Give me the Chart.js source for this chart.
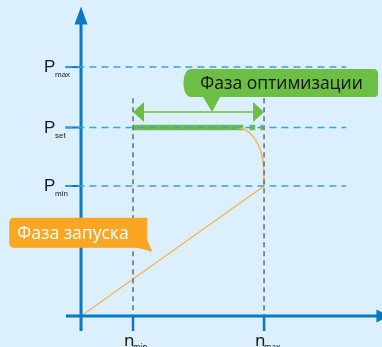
<!DOCTYPE html>
<html><head><meta charset="utf-8">
<script src="https://cdn.jsdelivr.net/npm/chart.js@4/dist/chart.umd.min.js"></script>
<style>html,body{margin:0;padding:0;background:#dbeffc;}canvas{display:block;}</style>
</head><body>
<canvas id="c" width="382" height="347"></canvas>
<script>
// ---- data ----
const speedTicks = ['min', 'max'];          // n_min, n_max
const speedValues = [1.0, 3.52];
const powerTicks = ['max', 'set', 'min'];   // P_max, P_set, P_min
const powerValues = [3.83, 2.9, 2.0];
const rampX = [0, 3.52];                    // start-up phase (straight)
const rampY = [0, 2.0];
const bendX = [3.52, 3.51, 3.45, 3.33, 3.17, 3.0];  // transition curve
const bendY = [2.0, 2.3, 2.55, 2.74, 2.86, 2.9];
const optBarX = [[1.0, 3.12], [3.24, 3.35], [3.45, 3.5]]; // optimisation band at P_set
const optArrowY = 3.14;
const labelStart = 'Фаза запуска';
const labelOpt = 'Фаза оптимизации';

const AX = '#0a78c2', DASH = '#3aa3e3', GRAY = '#666b70', GREEN = '#6dbe45', GREEN2 = '#8ccb66', ORANGE = '#f6b55a', ORANGE_BOX = '#f9a722';
const pts = (xs, ys) => xs.map((x, i) => ({x, y: ys[i]}));

const ds = [];
const line = (data, color, width, dash, extra) => ds.push(Object.assign({data, borderColor: color, borderWidth: width, borderDash: dash || [], showLine: true, pointRadius: 0, fill: false, borderCapStyle: 'butt'}, extra || {}));

// horizontal dashed levels and solid ticks
powerValues.forEach(v => {
  line([{x: -0.3, y: v}, {x: 5.1, y: v}], DASH, 1.5, [7, 5]);
  line([{x: -0.3, y: v}, {x: 0, y: v}], AX, 2);
});
// vertical gray dashed and bottom ticks
speedValues.forEach(v => {
  line([{x: v, y: 3.35}, {x: v, y: 0}], GRAY, 1.5, [5, 4]);
  line([{x: v, y: 0}, {x: v, y: -0.23}], AX, 2.5);
});
// axes
line([{x: 0, y: -0.23}, {x: 0, y: 4.5}], AX, 3);
line([{x: -0.29, y: 0}, {x: 5.7, y: 0}], AX, 3);
// orange curve
line(pts(rampX, rampY), ORANGE, 1.5);
line(pts(bendX, bendY), ORANGE, 1.5, [], {tension: 0.4});
// green band
optBarX.forEach(s => line([{x: s[0], y: powerValues[1]}, {x: s[1], y: powerValues[1]}], GREEN, 5.5));
// green double arrow shaft
line([{x: speedValues[0] + 0.15, y: optArrowY}, {x: speedValues[1] - 0.15, y: optArrowY}], GREEN2, 2);

const deco = {
  id: 'deco',
  afterDatasetsDraw(chart) {
    const c = chart.ctx, xs = chart.scales.x, ys = chart.scales.y;
    const X = v => xs.getPixelForValue(v), Y = v => ys.getPixelForValue(v);
    const tri = (p, col) => { c.beginPath(); c.moveTo(p[0][0], p[0][1]); c.lineTo(p[1][0], p[1][1]); c.lineTo(p[2][0], p[2][1]); c.closePath(); c.fillStyle = col; c.fill(); };
    c.save();
    // axis arrowheads
    const ox = X(0), oy = Y(0), topY = Y(4.5), rightX = X(5.7);
    tri([[ox, topY - 17], [ox - 6.5, topY + 1], [ox + 6.5, topY + 1]], AX);
    tri([[rightX + 12, oy], [rightX - 1, oy - 6.5], [rightX - 1, oy + 6.5]], AX);
    // green arrowheads
    const ay = Y(optArrowY), l = X(speedValues[0]), r = X(speedValues[1]);
    tri([[l, ay], [l + 11, ay - 10], [l + 11, ay + 10]], GREEN);
    tri([[r, ay], [r - 11, ay - 10], [r - 11, ay + 10]], GREEN);

    // green callout
    const px = X(2.52), bx0 = px - 29, bx1 = px + 166, by0 = ay - 43, by1 = ay - 15;
    c.beginPath();
    c.moveTo(bx0 + 8, by0);
    c.lineTo(bx1 - 5, by0); c.quadraticCurveTo(bx1, by0, bx1, by0 + 5);
    c.lineTo(bx1, by1 - 4); c.quadraticCurveTo(bx1, by1, bx1 - 4, by1);
    c.lineTo(px + 8, by1); c.lineTo(px, ay); c.lineTo(px - 9, by1);
    c.lineTo(bx0 + 8, by1);
    c.bezierCurveTo(bx0 - 2, by1, bx0 - 2, by0, bx0 + 8, by0);
    c.closePath(); c.fillStyle = GREEN; c.fill();
    c.fillStyle = '#111'; c.font = '17.5px "Open Sans"'; c.textAlign = 'center'; c.textBaseline = 'middle';
    c.fillText(labelOpt, (bx0 + bx1) / 2 + 1, (by0 + by1) / 2 + 1);

    // orange callout
    const tx = X(1.37), ty = Y(0.99);
    const ox0 = tx - 143, ox1 = tx - 5, oy0 = ty - 34, oy1 = ty - 4;
    c.beginPath();
    c.moveTo(ox0 + 5, oy0);
    c.lineTo(ox1 - 3, oy0); c.quadraticCurveTo(ox1 + 1, oy0 - 1, ox1, oy0 + 4);
    c.lineTo(ox1, oy1 - 8); c.lineTo(tx, ty); c.lineTo(ox1 - 10, oy1);
    c.lineTo(ox0 + 5, oy1); c.quadraticCurveTo(ox0, oy1, ox0, oy1 - 5);
    c.lineTo(ox0, oy0 + 5); c.quadraticCurveTo(ox0, oy0, ox0 + 5, oy0);
    c.closePath(); c.fillStyle = ORANGE_BOX; c.fill();
    c.fillStyle = '#fff'; c.textAlign = 'left';
    c.fillText(labelStart, ox0 + 8, (oy0 + oy1) / 2 + 1);

    // P labels
    c.fillStyle = '#1a1a1a'; c.textBaseline = 'alphabetic';
    powerValues.forEach((v, i) => {
      const y = Y(v);
      c.font = '17px "Liberation Sans"'; c.textAlign = 'left';
      c.fillText('P', 44, y + 5);
      c.font = '8px "Liberation Sans"';
      c.fillText(powerTicks[i], 55, y + 10);
    });
    // n labels
    speedValues.forEach((v, i) => {
      const x = X(v);
      c.font = '17px "Noto Sans"'; c.textAlign = 'left';
      c.fillText('n', x - 9, oy + 30);
      c.font = '8px "Noto Sans"';
      c.fillText(speedTicks[i], x, oy + 34);
    });
    c.restore();
  }
};

new Chart(document.getElementById('c'), {
  type: 'scatter',
  data: {datasets: ds},
  options: {
    responsive: false, animation: false, devicePixelRatio: 1,
    layout: {padding: 0},
    plugins: {legend: {display: false}, tooltip: {enabled: false}},
    scales: {
      x: {type: 'linear', min: -1.558, max: 5.788, display: false},
      y: {type: 'linear', min: -0.477, max: 4.862, display: false}
    }
  },
  plugins: [deco]
});
</script>
</body></html>
